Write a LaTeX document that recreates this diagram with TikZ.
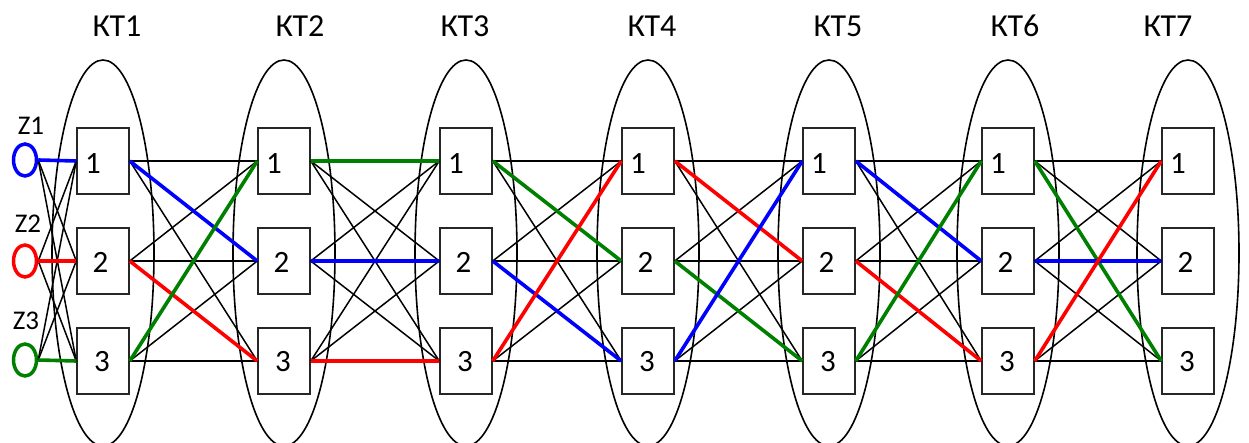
\documentclass[tikz,border=0pt]{standalone}
\usepackage{fontspec}
\setmainfont{Carlito}
\usetikzlibrary{shapes.geometric}
\definecolor{lblue}{RGB}{0,0,255}
\definecolor{lred}{RGB}{255,0,0}
\definecolor{lgreen}{RGB}{0,128,0}
\begin{document}
\begin{tikzpicture}[x=1pt,y=-1pt,
  ktell/.style={draw, ellipse, line width=1.6pt, inner sep=0pt, minimum width=102pt, minimum height=386pt},
  stagebox/.style={draw=black!85, line width=1.5pt, fill=white, inner sep=0pt, minimum width=52pt, minimum height=66pt},
  digit/.style={inner sep=0pt, font=\fontsize{31}{33}\selectfont},
  ktlabel/.style={inner sep=0pt, font=\fontsize{32}{34}\selectfont},
  zlabel/.style={inner sep=0pt, font=\fontsize{27}{29}\selectfont},
  zsrc/.style={draw=#1, ellipse, line width=3.5pt, inner sep=0pt, minimum width=23pt, minimum height=32pt},
  thinline/.style={draw=black, line width=1.5pt},
  pathline/.style={draw=#1, line width=3.6pt}
]
\useasboundingbox (0,0) rectangle (1249,443);

% stages: ellipses, labels, boxes
\foreach \c/\x/\lx in {1/103/117,2/284/300,3/466/465,4/648/652,5/829/838,6/1008/1015,7/1188/1168} {
  \node[ktell] (e\c) at (\x,253) {};
  \node[ktlabel] (k\c) at (\lx,26) {КТ\c};
  \foreach \r/\y/\dx/\dy in {1/161/-10/3,2/261/-2.5/1,3/361/-1/1} {
    \node[stagebox] (b\c\r) at (\x,\y) {};
    \node[digit] (d\c\r) at (\x+\dx,\y+\dy) {\r};
  }
}

% sources
\node[zsrc=lblue]  (z1) at (25,160) {};
\node[zsrc=lred]   (z2) at (25,261) {};
\node[zsrc=lgreen] (z3) at (25,360) {};
\node[zlabel] (zl1) at (31,126) {Z1};
\node[zlabel] (zl2) at (28,224) {Z2};
\node[zlabel] (zl3) at (26,321) {Z3};

% all black connections
\foreach \z in {1,2,3} {
  \foreach \r in {1,2,3} {
    \draw[thinline] (z\z.east) -- (b1\r.west);
  }
}
\foreach \c/\n in {1/2,2/3,3/4,4/5,5/6,6/7} {
  \foreach \a in {1,2,3} {
    \foreach \b in {1,2,3} {
      \draw[thinline] (b\c\a.east) -- (b\n\b.west);
    }
  }
}

% coloured routes
\draw[pathline=lblue]  (z1.east) -- (b11.west);
\draw[pathline=lred]   (z2.east) -- (b12.west);
\draw[pathline=lgreen] (z3.east) -- (b13.west);
\foreach \c/\n/\a/\b/\col in {
  1/2/1/2/lblue, 1/2/2/3/lred, 1/2/3/1/lgreen,
  2/3/1/1/lgreen, 2/3/2/2/lblue, 2/3/3/3/lred,
  3/4/1/2/lgreen, 3/4/2/3/lblue, 3/4/3/1/lred,
  4/5/1/2/lred, 4/5/2/3/lgreen, 4/5/3/1/lblue,
  5/6/1/2/lblue, 5/6/2/3/lred, 5/6/3/1/lgreen,
  6/7/1/3/lgreen, 6/7/2/2/lblue, 6/7/3/1/lred} {
  \draw[pathline=\col] (b\c\a.east) -- (b\n\b.west);
}
\end{tikzpicture}
\end{document}
